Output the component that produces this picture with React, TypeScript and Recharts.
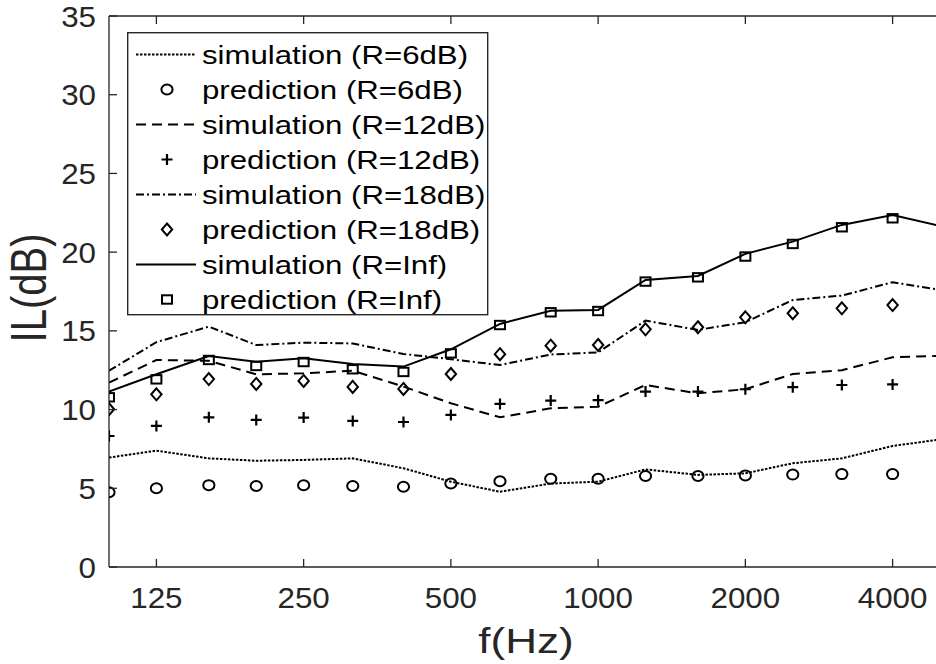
import { LineChart, Line, XAxis, YAxis, Legend, Label } from "recharts";

const freqs = [100, 125, 160, 200, 250, 315, 400, 500, 630, 800, 1000, 1250, 1600, 2000, 2500, 3150, 4000, 5000];
const xTicks = [125, 250, 500, 1000, 2000, 4000];
const yTicks = [0, 5, 10, 15, 20, 25, 30, 35];

// simulation curves run to 5000 Hz, predictions stop at 4000 Hz
const sim6 = [6.95, 7.39, 6.9, 6.75, 6.8, 6.9, 6.27, 5.42, 4.78, 5.3, 5.42, 6.2, 5.85, 5.95, 6.59, 6.9, 7.69, 8.1];
const pred6 = [4.75, 5.0, 5.2, 5.15, 5.19, 5.15, 5.1, 5.3, 5.45, 5.6, 5.6, 5.78, 5.78, 5.82, 5.87, 5.9, 5.9];
const sim12 = [11.71, 13.15, 13.1, 12.24, 12.3, 12.47, 11.46, 10.4, 9.51, 10.08, 10.18, 11.56, 11.03, 11.29, 12.26, 12.5, 13.32, 13.41];
const pred12 = [8.32, 8.96, 9.51, 9.34, 9.49, 9.28, 9.21, 9.66, 10.36, 10.57, 10.6, 11.14, 11.14, 11.29, 11.42, 11.56, 11.6];
const sim18 = [12.47, 14.28, 15.27, 14.1, 14.25, 14.2, 13.53, 13.2, 12.83, 13.5, 13.63, 15.65, 15.06, 15.55, 16.96, 17.24, 18.09, 17.6];
const pred18 = [10.02, 10.97, 11.94, 11.63, 11.82, 11.44, 11.31, 12.26, 13.52, 14.06, 14.1, 15.1, 15.23, 15.86, 16.12, 16.43, 16.64];
const simInf = [11.14, 12.24, 13.4, 13.04, 13.26, 12.9, 12.73, 13.83, 15.44, 16.28, 16.33, 18.23, 18.49, 19.89, 20.67, 21.73, 22.36, 21.67];
const predInf = [10.78, 11.92, 13.15, 12.77, 13.02, 12.56, 12.39, 13.57, 15.37, 16.18, 16.26, 18.13, 18.4, 19.72, 20.52, 21.58, 22.15];

const rows = freqs.map((f, i) => ({
  f,
  sim6: sim6[i],
  pred6: pred6[i] ?? null,
  sim12: sim12[i],
  pred12: pred12[i] ?? null,
  sim18: sim18[i],
  pred18: pred18[i] ?? null,
  simInf: simInf[i],
  predInf: predInf[i] ?? null,
}));

const AX = "#262626";
const FONT = '"Liberation Sans", Arial, Helvetica, sans-serif';
const DOTTED = "2.5 1.5";
const DASHED = "10 6";
const DASHDOT = "8 3 2 3";

type Shape = "circle" | "plus" | "diamond" | "square";

function marker(shape: Shape, cx: number, cy: number) {
  const p = { fill: "none", stroke: "#000", strokeWidth: 2 };
  if (shape === "circle") return <ellipse cx={cx} cy={cy} rx={5.6} ry={5} {...p} />;
  if (shape === "plus")
    return <path d={`M${cx - 5.5},${cy}H${cx + 5.5}M${cx},${cy - 5.5}V${cy + 5.5}`} {...p} strokeWidth={2.2} />;
  if (shape === "diamond")
    return <path d={`M${cx},${cy - 6}L${cx + 5.2},${cy}L${cx},${cy + 6}L${cx - 5.2},${cy}Z`} {...p} />;
  return <rect x={cx - 5} y={cy - 4.2} width={10} height={8.4} {...p} />;
}

const dotOf = (shape: Shape) => (props: any) => {
  const { cx, cy, value, index } = props;
  if (value == null || cx == null || cy == null) return <g key={index} />;
  return <g key={index}>{marker(shape, cx, cy)}</g>;
};

function BottomTick({ x, y, payload }: any) {
  return (
    <g>
      <line x1={x} y1={y} x2={x} y2={y - 8} stroke={AX} strokeWidth={1.3} />
      <text transform={`translate(${x} ${y + 41}) scale(1.08 1)`} textAnchor="middle" fontSize={29} fill={AX} fontFamily={FONT}>
        {payload.value}
      </text>
    </g>
  );
}

function TopTick({ x, y }: any) {
  return <line x1={x} y1={y} x2={x} y2={y + 8} stroke={AX} strokeWidth={1.3} />;
}

function LeftTick({ x, y, payload }: any) {
  return (
    <g>
      <line x1={x} y1={y} x2={x + 8} y2={y} stroke={AX} strokeWidth={1.3} />
      <text transform={`translate(${x - 13} ${y + 10.5}) scale(1.08 1)`} textAnchor="end" fontSize={29} fill={AX} fontFamily={FONT}>
        {payload.value}
      </text>
    </g>
  );
}

function RightTick({ x, y }: any) {
  return <line x1={x} y1={y} x2={x - 8} y2={y} stroke={AX} strokeWidth={1.3} />;
}

const legendRows: { label: string; dash?: string; shape?: Shape }[] = [
  { label: "simulation (R=6dB)", dash: DOTTED },
  { label: "prediction (R=6dB)", shape: "circle" },
  { label: "simulation (R=12dB)", dash: DASHED },
  { label: "prediction (R=12dB)", shape: "plus" },
  { label: "simulation (R=18dB)", dash: DASHDOT },
  { label: "prediction (R=18dB)", shape: "diamond" },
  { label: "simulation (R=Inf)", dash: "none" },
  { label: "prediction (R=Inf)", shape: "square" },
];

function LegendBox() {
  return (
    <svg width={362} height={284} style={{ display: "block" }}>
      <rect x={0.7} y={0.7} width={360} height={282} fill="#fff" stroke={AX} strokeWidth={1.4} />
      {legendRows.map((r, i) => {
        const cy = 22.5 + i * 35;
        return (
          <g key={r.label}>
            {r.dash &&
              <line x1={9} y1={cy} x2={69} y2={cy} stroke="#000" strokeWidth={2}
                strokeDasharray={r.dash === "none" ? undefined : r.dash} />}
            {r.shape && marker(r.shape, 40, cy)}
            <text transform={`translate(75 ${cy + 9}) scale(1.2 1)`} fontSize={26} fill="#000" fontFamily={FONT}>
              {r.label}
            </text>
          </g>
        );
      })}
    </svg>
  );
}

export default function App() {
  return (
    <div style={{ position: "fixed", left: 0, top: 0, width: 936, height: 664, overflow: "hidden", background: "#fff" }}>
      <LineChart width={960} height={664} data={rows} margin={{ top: 15, right: 0, bottom: 0, left: 0 }}>
        <XAxis
          dataKey="f"
          type="number"
          scale="log"
          domain={[100, 5000]}
          allowDataOverflow
          ticks={xTicks}
          interval={0}
          height={97}
          tickSize={0}
          tickMargin={0}
          tickLine={false}
          axisLine={{ stroke: AX, strokeWidth: 1.3 }}
          tick={BottomTick}
        >
          <Label
            content={() => (
              <text transform="translate(526 653) scale(1.26 1)" textAnchor="middle" fontSize={35} fill={AX} fontFamily={FONT}>
                f(Hz)
              </text>
            )}
          />
        </XAxis>
        <XAxis
          xAxisId="top"
          orientation="top"
          dataKey="f"
          type="number"
          scale="log"
          domain={[100, 5000]}
          allowDataOverflow
          ticks={xTicks}
          interval={0}
          height={1}
          tickSize={0}
          tickMargin={0}
          tickLine={false}
          axisLine={{ stroke: AX, strokeWidth: 1.3 }}
          tick={TopTick}
        />
        <YAxis
          type="number"
          domain={[0, 35]}
          ticks={yTicks}
          interval={0}
          width={109}
          tickSize={0}
          tickMargin={0}
          tickLine={false}
          axisLine={{ stroke: AX, strokeWidth: 1.3 }}
          tick={LeftTick}
        >
          <Label
            content={() => (
              <text transform="translate(46 288) scale(1.25 1) rotate(-90)" textAnchor="middle" fontSize={40} fill={AX} fontFamily={FONT}>
                IL(dB)
              </text>
            )}
          />
        </YAxis>
        <YAxis
          yAxisId="right"
          orientation="right"
          type="number"
          domain={[0, 35]}
          ticks={yTicks}
          interval={0}
          width={20}
          tickSize={0}
          tickMargin={0}
          tickLine={false}
          axisLine={{ stroke: AX, strokeWidth: 1.3 }}
          tick={RightTick}
        />
        <Legend
          layout="vertical"
          align="center"
          verticalAlign="middle"
          content={() => <LegendBox />}
          wrapperStyle={{ left: 127, top: 32, width: 362, height: 284 }}
        />
        <Line dataKey="sim6" stroke="#000" strokeWidth={2} strokeDasharray={DOTTED} dot={false} activeDot={false} isAnimationActive={false} />
        <Line dataKey="sim12" stroke="#000" strokeWidth={2} strokeDasharray={DASHED} dot={false} activeDot={false} isAnimationActive={false} />
        <Line dataKey="sim18" stroke="#000" strokeWidth={2} strokeDasharray={DASHDOT} dot={false} activeDot={false} isAnimationActive={false} />
        <Line dataKey="simInf" stroke="#000" strokeWidth={2} dot={false} activeDot={false} isAnimationActive={false} />
        <Line dataKey="pred6" stroke="none" dot={dotOf("circle")} activeDot={false} isAnimationActive={false} />
        <Line dataKey="pred12" stroke="none" dot={dotOf("plus")} activeDot={false} isAnimationActive={false} />
        <Line dataKey="pred18" stroke="none" dot={dotOf("diamond")} activeDot={false} isAnimationActive={false} />
        <Line dataKey="predInf" stroke="none" dot={dotOf("square")} activeDot={false} isAnimationActive={false} />
      </LineChart>
    </div>
  );
}
